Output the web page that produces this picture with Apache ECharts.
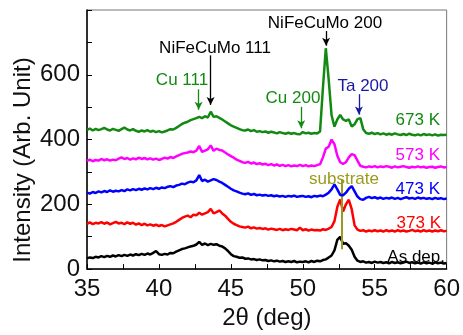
<!DOCTYPE html>
<html>
<head>
<meta charset="utf-8">
<script src="https://cdn.jsdelivr.net/npm/echarts@6/dist/echarts.min.js"></script>
<style>html,body{margin:0;padding:0;background:#fff}#c{width:463px;height:335px}</style>
</head>
<body>
<div id="c"></div>
<script>
const angles = [
35.0,35.2,35.4,35.6,35.8, 36.0,36.2,36.4,36.6,36.8, 37.0,37.2,37.4,37.6,37.8, 38.0,38.2,38.4,38.6,38.8,
39.0,39.2,39.4,39.6,39.8, 40.0,40.2,40.4,40.6,40.8, 41.0,41.2,41.4,41.6,41.8, 42.0,42.2,42.4,42.6,42.8,
43.0,43.2,43.4,43.6,43.8, 44.0,44.2,44.4,44.6,44.8, 45.0,45.2,45.4,45.6,45.8, 46.0,46.2,46.4,46.6,46.8,
47.0,47.2,47.4,47.6,47.8, 48.0,48.2,48.4,48.6,48.8, 49.0,49.2,49.4,49.6,49.8, 50.0,50.2,50.4,50.6,50.8,
51.0,51.2,51.4,51.6,51.8, 52.0,52.2,52.4,52.6,52.8, 53.0,53.2,53.4,53.6,53.8, 54.0,54.2,54.4,54.6,54.8,
55.0,55.2,55.4,55.6,55.8, 56.0,56.2,56.4,56.6,56.8, 57.0,57.2,57.4,57.6,57.8, 58.0,58.2,58.4,58.6,58.8,
59.0,59.2,59.4,59.6,59.8, 60.0];

const asDep = [
33,36,34,38,36, 40,37,41,38,42, 39,43,40,44,41, 45,42,46,43,47, 44,48,45,50,56,
46,44,47,45,50, 49,54,58,62,64, 67,70,72,76,84, 75,79,74,78,75, 77,72,70,64,56,
46,40,38,35,36, 32,33,30,31,28, 30,27,28,25,27, 24,26,23,25,22, 24,22,25,21,23,
22,24,21,25,22, 26,24,28,30,36, 42,58,90,100,78, 80,72,60,38,26, 22,24,20,22,19,
23,20,22,19,21, 18,22,19,21,18, 20,23,19,21,18, 20,17,21,18,20, 17,21,18,20,17, 19];

const k373 = [
140,144,139,143,141, 145,140,144,138,142, 146,141,143,139,144, 140,143,137,141,136, 140,135,138,134,137,
133,136,132,135,138, 141,146,152,158,162, 165,160,168,166,174, 168,172,176,186,172, 176,181,172,165,155,
146,140,136,132,130, 128,131,126,129,125, 127,124,126,122,125, 123,121,124,120,123, 121,124,122,120,128,
120,123,119,122,120, 121,119,123,121,125, 130,148,192,215,178, 200,214,185,135,122, 118,120,116,119,117,
120,117,119,116,120, 117,119,116,120,117, 119,116,118,121,117, 119,116,120,117,119, 116,119,117,120,117, 118];

const k473 = [
236,233,238,235,240, 237,241,238,243,239, 242,240,244,241,246, 243,247,244,248,245, 249,246,250,247,251,
248,252,250,254,256, 253,258,260,264,262, 267,270,268,274,290, 272,276,270,274,278, 275,270,266,260,254,
248,243,240,236,233, 231,234,229,232,228, 230,227,229,226,228, 225,227,224,226,223, 226,224,227,223,225,
226,223,225,222,226, 224,227,225,230,236, 246,262,246,229,228, 236,248,256,240,224, 216,214,220,223,219,
222,218,221,217,220, 218,221,217,220,216, 219,222,218,220,217, 221,218,220,217,219, 216,220,217,219,216, 218];

const k573 = [
334,338,333,337,335, 340,336,339,335,338, 336,341,345,340,343, 338,342,339,344,340, 343,339,342,338,341,
337,340,344,341,346, 343,348,352,356,358, 360,363,361,366,380, 362,366,370,382,365, 372,368,366,360,354,
349,344,338,334,330, 328,331,326,329,324, 327,323,325,321,324, 320,323,319,322,318, 321,317,320,318,322,
318,321,317,320,318, 321,324,345,372,378, 400,386,350,330,325, 330,345,355,352,335, 319,316,314,317,315,
318,314,317,315,318, 316,313,317,314,316, 318,315,313,316,314, 317,314,316,313,315, 316,313,315,317,314, 315];

const k673 = [
430,434,428,433,429, 432,436,431,428,433, 430,427,432,437,431, 428,432,427,424,428, 425,429,424,427,423,
426,422,425,428,432, 431,436,442,448,452, 455,460,463,466,470, 466,472,468,486,470, 472,467,462,456,450,
444,440,436,432,429, 428,431,426,429,424, 426,423,425,421,424, 422,419,423,420,418, 421,418,420,417,416,
423,419,421,418,420, 419,425,560,682,585, 475,440,462,476,462, 458,462,440,447,463, 466,432,420,418,421,
417,420,416,419,415, 418,415,419,416,414, 417,414,418,415,413, 416,413,417,414,416, 413,416,412,415,414, 415];

const seriesNames = ['As dep.', '373 K', '473 K', '573 K', '673 K'];
const seriesValues = [asDep, k373, k473, k573, k673];
const seriesColors = ['#000000', '#ff0000', '#0000ff', '#ff00ff', '#128a12'];

// peak marker arrows
const arrowAngles = [51.62, 43.59, 42.76, 49.89, 53.9];
const arrowFrom   = [735, 660, 555, 501, 540];
const arrowTo     = [690, 507, 492, 435, 477];
const arrowColors = ['#000000', '#000000', '#128a12', '#128a12', '#1a1aa0'];

const substrateAngle = 52.71;
const substrateRange = [276, 61];

const xTicks = [35, 40, 45, 50, 55, 60];
const yTicks = [0, 200, 400, 600];

const FONT = "'Liberation Sans', Arial, sans-serif";
const chart = echarts.init(document.getElementById('c'), null, {renderer: 'canvas'});

const series = seriesNames.map((n, s) => ({
  name: n,
  type: 'line',
  showSymbol: false,
  symbol: 'none',
  data: angles.map((a, i) => [a, seriesValues[s][i]]),
  lineStyle: {color: seriesColors[s], width: 2.5},
  itemStyle: {color: seriesColors[s]},
  z: 3 + s
}));

series.push({
  type: 'line',
  data: [],
  markLine: {
    silent: true,
    animation: false,
    symbol: ['none', 'arrow'],
    symbolSize: [6, 8],
    label: {show: false},
    data: arrowAngles.map((a, i) => [
      {coord: [a, arrowFrom[i]], lineStyle: {color: arrowColors[i], width: 1.3, type: 'solid'}, itemStyle: {color: arrowColors[i]}},
      {coord: [a, arrowTo[i]]}
    ]).concat([[
      {coord: [substrateAngle, substrateRange[0]], symbol: 'none', lineStyle: {color: '#9a9a1e', width: 2, type: 'solid'}},
      {coord: [substrateAngle, substrateRange[1]], symbol: 'none'}
    ]])
  },
  z: 10
});

const txt = (t, x, y, color, align) => ({
  type: 'text', x: x, y: y,
  style: {text: t, fill: color, font: "17px " + FONT, textAlign: align || 'center', textVerticalAlign: 'middle'},
  z: 100
});

chart.setOption({
  animation: false,
  backgroundColor: '#fff',
  grid: {left: 87, right: 15, top: 10, bottom: 58, show: true, borderColor: '#777', borderWidth: 1},
  xAxis: {
    type: 'value', min: 35, max: 60, interval: 2.5,
    name: '2θ (deg)', nameLocation: 'middle', nameGap: 29,
    nameTextStyle: {fontSize: 24, color: '#111', fontFamily: FONT},
    axisLine: {show: true, lineStyle: {color: '#000', width: 1.5}},
    axisTick: {show: true, inside: true, length: 5, lineStyle: {color: '#000'}},
    axisLabel: {fontSize: 24, color: '#111', fontFamily: FONT, margin: 8,
      formatter: v => xTicks.indexOf(Math.round(v * 10) / 10) >= 0 ? String(v) : ''},
    splitLine: {show: false}
  },
  yAxis: {
    type: 'value', min: 0, max: 800, interval: 100,
    axisLine: {show: true, lineStyle: {color: '#000', width: 1.5}},
    axisTick: {show: true, inside: true, length: 5, lineStyle: {color: '#000'}},
    axisLabel: {fontSize: 24, color: '#111', fontFamily: FONT, margin: 7,
      formatter: v => yTicks.indexOf(v) >= 0 ? String(v) : ''},
    splitLine: {show: false}
  },
  series: series,
  graphic: [
    {type: 'text', x: 23, y: 160, rotation: Math.PI / 2, z: 100,
     style: {text: 'Intensity (Arb. Unit)', fill: '#111', font: "24px " + FONT, textAlign: 'center', textVerticalAlign: 'middle'}},
    txt('NiFeCuMo 200', 325, 23, '#000'),
    txt('NiFeCuMo 111', 215, 48, '#000'),
    txt('Cu 111', 182, 80, '#128a12'),
    txt('Cu 200', 293, 98, '#128a12'),
    txt('Ta 200', 363, 86, '#1a1aa0'),
    txt('substrate', 344, 179, '#9a9a1e'),
    txt('673 K', 440, 120, '#128a12', 'right'),
    txt('573 K', 440, 155, '#ff00ff', 'right'),
    txt('473 K', 440, 189, '#0000ff', 'right'),
    txt('373 K', 441, 223, '#ff0000', 'right'),
    txt('As dep.', 445, 257, '#000', 'right')
  ]
});
</script>
</body>
</html>
